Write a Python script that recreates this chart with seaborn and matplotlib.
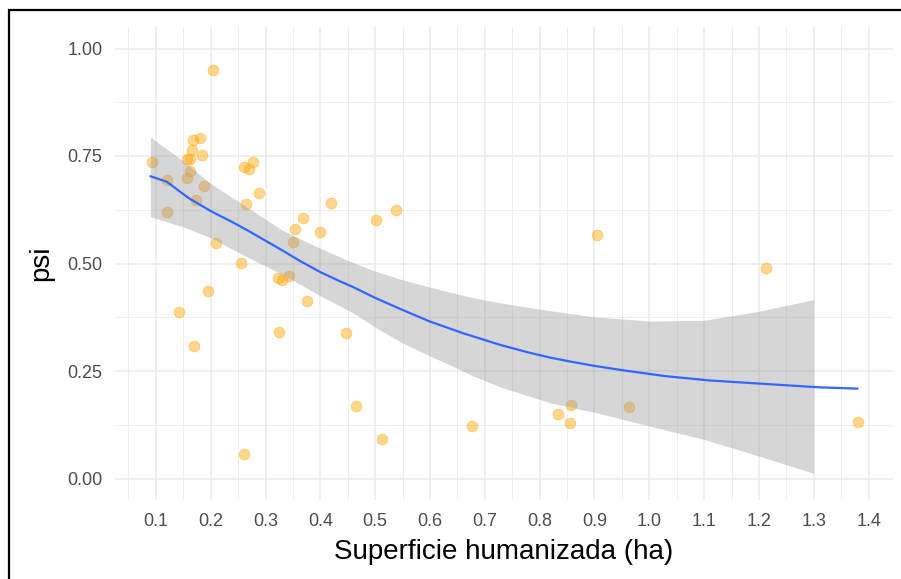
import matplotlib
matplotlib.use("Agg")
import matplotlib.pyplot as plt
from matplotlib.patches import Rectangle
from matplotlib.ticker import FixedLocator, FormatStrFormatter
import numpy as np
import pandas as pd
import seaborn as sns

# Puntos observados (superficie humanizada en ha, psi)
superficie = [
    0.093, 0.120, 0.121, 0.142, 0.157, 0.157, 0.163, 0.163, 0.166, 0.167,
    0.169, 0.173, 0.180, 0.184, 0.188, 0.195, 0.204, 0.209, 0.256, 0.260,
    0.261, 0.265, 0.270, 0.277, 0.288, 0.322, 0.325, 0.330, 0.343, 0.351,
    0.353, 0.369, 0.375, 0.400, 0.420, 0.447, 0.465, 0.502, 0.513, 0.538,
    0.676, 0.834, 0.855, 0.858, 0.905, 0.963, 1.213, 1.380,
]
psi = [
    0.737, 0.695, 0.619, 0.387, 0.744, 0.698, 0.744, 0.715, 0.765, 0.788,
    0.309, 0.647, 0.791, 0.753, 0.680, 0.435, 0.949, 0.548, 0.501, 0.058,
    0.725, 0.638, 0.719, 0.737, 0.664, 0.466, 0.340, 0.462, 0.472, 0.550,
    0.581, 0.605, 0.412, 0.573, 0.640, 0.338, 0.169, 0.601, 0.091, 0.625,
    0.122, 0.149, 0.130, 0.170, 0.567, 0.167, 0.490, 0.132,
]

# Curva suavizada
curva_x = [0.09, 0.12, 0.16, 0.20, 0.24, 0.27, 0.30, 0.33, 0.36, 0.40,
           0.43, 0.46, 0.50, 0.55, 0.60, 0.66, 0.73, 0.78, 0.82, 0.86,
           0.90, 0.95, 1.03, 1.11, 1.16, 1.21, 1.31, 1.38]
curva_y = [0.703, 0.690, 0.652, 0.622, 0.596, 0.575, 0.553, 0.531, 0.508, 0.480,
           0.462, 0.445, 0.420, 0.392, 0.365, 0.338, 0.310, 0.293, 0.281, 0.271,
           0.262, 0.252, 0.238, 0.228, 0.224, 0.220, 0.212, 0.209]

# Banda de confianza (se corta en 1.3 porque baja de 0)
banda_x = [0.09, 0.15, 0.20, 0.27, 0.33, 0.40, 0.46, 0.50, 0.55, 0.60,
           0.64, 0.68, 0.73, 0.82, 0.90, 1.00, 1.10, 1.20, 1.30]
banda_inf = [0.609, 0.585, 0.560, 0.513, 0.475, 0.425, 0.385, 0.352, 0.315, 0.285,
             0.262, 0.238, 0.212, 0.176, 0.154, 0.122, 0.091, 0.052, 0.012]
banda_sup = [0.794, 0.738, 0.686, 0.628, 0.578, 0.535, 0.502, 0.482, 0.462, 0.445,
             0.432, 0.420, 0.408, 0.390, 0.376, 0.366, 0.368, 0.389, 0.416]

x_ticks = [0.1, 0.2, 0.3, 0.4, 0.5, 0.6, 0.7, 0.8, 0.9, 1.0, 1.1, 1.2, 1.3, 1.4]
y_ticks = [0.0, 0.25, 0.5, 0.75, 1.0]

sns.set_theme(style="white")
plt.rcParams["font.family"] = ["Liberation Sans", "DejaVu Sans"]

puntos = pd.DataFrame({"superficie": superficie, "psi": psi})
curva = pd.DataFrame({"x": curva_x, "y": curva_y})

fig = plt.figure(figsize=(9.01, 5.79), dpi=100)
ax = fig.add_axes([115 / 901, 1 - 500 / 579, 778 / 901, 473 / 579])

sns.scatterplot(data=puntos, x="superficie", y="psi", ax=ax, color="#FFA500",
                alpha=0.45, s=60, edgecolor="#FFA500", linewidth=0.6, zorder=3)
ax.fill_between(banda_x, banda_inf, banda_sup, color="#999999", alpha=0.4,
                linewidth=0, zorder=4)
sns.lineplot(data=curva, x="x", y="y", ax=ax, color="#3366FF", linewidth=1.6,
             zorder=5)

ax.set_xlim(0.0255, 1.4445)
ax.set_ylim(-0.05, 1.05)

ax.xaxis.set_major_locator(FixedLocator(x_ticks))
ax.xaxis.set_minor_locator(FixedLocator(np.arange(0.05, 1.45, 0.1)))
ax.yaxis.set_major_locator(FixedLocator(y_ticks))
ax.yaxis.set_minor_locator(FixedLocator([0.125, 0.375, 0.625, 0.875]))
ax.xaxis.set_major_formatter(FormatStrFormatter("%.1f"))
ax.yaxis.set_major_formatter(FormatStrFormatter("%.2f"))

ax.grid(which="major", color="#EBEBEB", linewidth=1.1)
ax.grid(which="minor", color="#EBEBEB", linewidth=0.6)
ax.set_axisbelow(True)
for s in ax.spines.values():
    s.set_visible(False)
ax.tick_params(which="both", length=0, labelsize=13, labelcolor="#4D4D4D", pad=9)

ax.set_xlabel("Superficie humanizada (ha)", fontsize=20, color="black")
ax.set_ylabel("psi", fontsize=20, color="black")
ax.xaxis.set_label_coords(0.5, -0.083)
ax.yaxis.set_label_coords(-0.078, 0.5)

# marco negro de la captura
fig.patches.append(Rectangle((9 / 901, -0.1), 1.2, 1.1 - 10 / 579, fill=False,
                             edgecolor="black", linewidth=1.6,
                             transform=fig.transFigure, figure=fig))

fig.savefig("out.png", dpi=100)
